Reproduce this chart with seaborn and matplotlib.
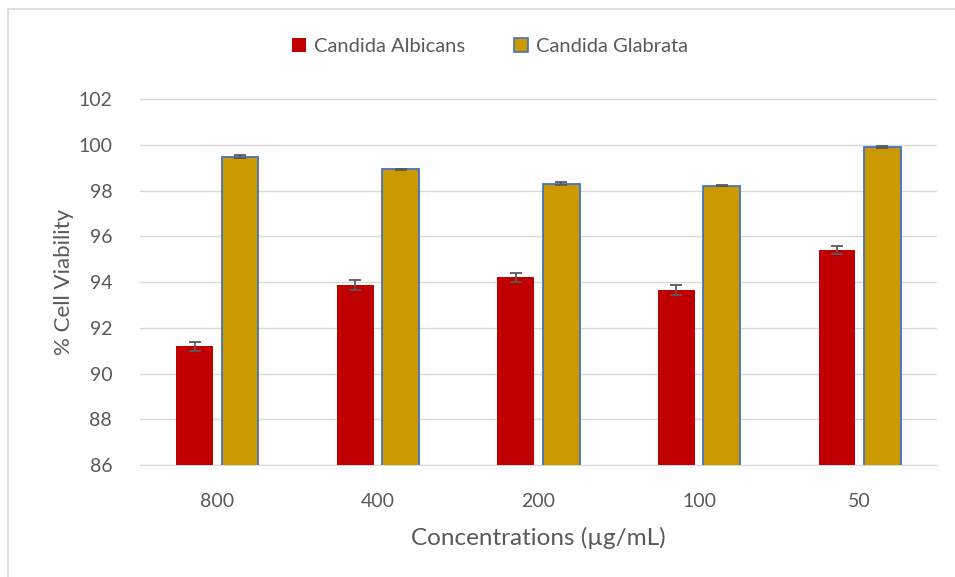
import seaborn as sns
import matplotlib.pyplot as plt
import matplotlib.patches as mpatches
import numpy as np
import pandas as pd

# data
concentrations = ["800", "400", "200", "100", "50"]
albicans = [91.2, 93.87, 94.22, 93.65, 95.4]
albicans_err = [0.2, 0.22, 0.2, 0.22, 0.18]
glabrata = [99.48, 98.93, 98.31, 98.22, 99.9]
glabrata_err = [0.06, 0.03, 0.05, 0.03, 0.05]
species = ["Candida Albicans", "Candida Glabrata"]

red = "#C00000"
gold = "#CC9900"
text_col = "#595959"

sns.set_style("white")
plt.rcParams["font.family"] = ["Lato", "DejaVu Sans"]

df = pd.DataFrame({
    "conc": concentrations * 2,
    "viability": albicans + glabrata,
    "species": [species[0]] * 5 + [species[1]] * 5,
})

fig = plt.figure(figsize=(9.55, 5.77), dpi=100)
ax = fig.add_axes([0.1466, 0.194, 0.8345, 0.634])

sns.barplot(data=df, x="conc", y="viability", hue="species",
            palette=[red, gold], saturation=1, width=0.565, gap=0.19,
            errorbar=None, ax=ax, legend=False, zorder=3)

# bar edges: glabrata bars get a blue outline like the original
n = len(concentrations)
for i, p in enumerate(ax.patches[:2 * n]):
    if i >= n:
        p.set_edgecolor("#4472C4")
        p.set_linewidth(1.3)
    else:
        p.set_edgecolor("none")

# error bars at the bar centres
errs = albicans_err + glabrata_err
vals = albicans + glabrata
xs = [p.get_x() + p.get_width() / 2 for p in ax.patches[:2 * n]]
ax.errorbar(xs, vals, yerr=errs, fmt="none", ecolor="#595959",
            elinewidth=1.3, capsize=4.5, capthick=1.3, zorder=4)

ax.set_ylim(86, 102)
ax.set_yticks(np.arange(86, 103, 2))
ax.yaxis.grid(True, color="#D9D9D9", linewidth=1)
ax.set_axisbelow(True)
for s in ["top", "right", "left"]:
    ax.spines[s].set_visible(False)
ax.spines["bottom"].set_color("#D9D9D9")
ax.tick_params(axis="both", length=0, labelsize=14, colors=text_col)
ax.tick_params(axis="x", pad=20)
ax.tick_params(axis="y", pad=20)

ax.set_xlabel("Concentrations (µg/mL)", fontsize=17.5, color=text_col, labelpad=12)
ax.set_ylabel("% Cell Viability", fontsize=16, color=text_col, labelpad=3)

handles = [mpatches.Patch(facecolor=red, edgecolor="none"),
           mpatches.Patch(facecolor=gold, edgecolor="#4472C4", linewidth=1.2)]
fig.legend(handles, species, loc="center", bbox_to_anchor=(0.513, 0.92),
           ncol=2, frameon=False, fontsize=14.5, labelcolor=text_col,
           handlelength=0.7, handleheight=0.7, handletextpad=0.4,
           columnspacing=2.4)

# chart border (only top and left visible in the original)
fig.patches.append(mpatches.Rectangle((8 / 955, -0.05), 1.0, 1 - 9 / 577 + 0.05,
                                      transform=fig.transFigure, fill=False,
                                      edgecolor="#D9D9D9", linewidth=1.2))

fig.savefig("out.png", dpi=100)
